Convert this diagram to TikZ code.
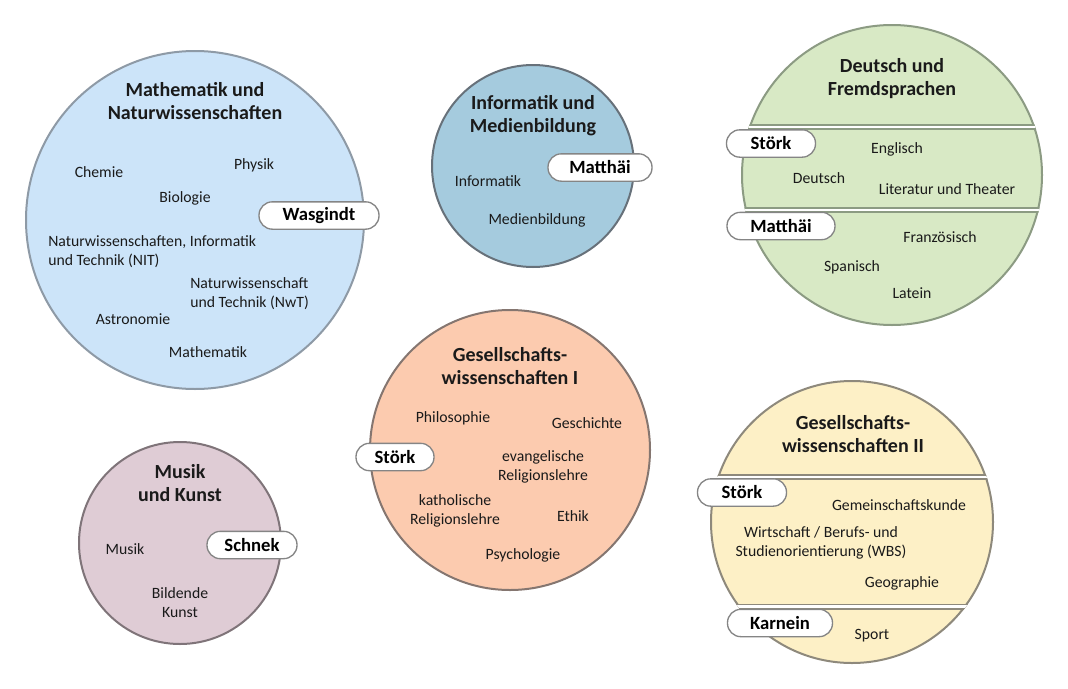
\documentclass[tikz,border=0pt]{standalone}
\usepackage{fontspec}
\setmainfont{Carlito}
\definecolor{mathfill}{HTML}{CCE4F9}
\definecolor{mathline}{HTML}{8E9AA6}
\definecolor{infofill}{HTML}{A5CBDE}
\definecolor{infoline}{HTML}{67717A}
\definecolor{deufill}{HTML}{D8E9C5}
\definecolor{deuline}{HTML}{8C9B83}
\definecolor{gesifill}{HTML}{FCCBAF}
\definecolor{gesiline}{HTML}{857670}
\definecolor{musfill}{HTML}{DFCCD5}
\definecolor{musline}{HTML}{7F7479}
\definecolor{gesiifill}{HTML}{FDF0C6}
\definecolor{gesiiline}{HTML}{8E897C}
\definecolor{pillline}{HTML}{858585}
\definecolor{txt}{HTML}{1A1A1A}
\begin{document}
\begin{tikzpicture}[x=0.75pt,y=-0.75pt,
  lbl/.style={font=\fontsize{11.8}{14.25}\selectfont, align=center, inner sep=0pt, text=txt},
  ttl/.style={font=\fontsize{15}{17.25}\selectfont\bfseries, align=center, inner sep=0pt, text=txt},
  pill/.style={draw=pillline, fill=white, line width=1pt, rounded corners=10pt,
    font=\fontsize{14}{16}\selectfont\bfseries, inner sep=0pt, minimum height=20.5pt, text=black},
  bubble/.style={circle, draw, line width=1.5pt, inner sep=0pt},
  gapedge/.style={line width=4.5pt},
  gapfill/.style={white, line width=2pt}]
\useasboundingbox (0,0) rectangle (1068,689);
\fill[white] (0,0) rectangle (1068,689);

% circles
\node[bubble, draw=mathline, fill=mathfill, minimum size=253.5pt] (math) at (195,220) {};
\node[bubble, draw=infoline, fill=infofill, minimum size=151.5pt] (info) at (533,166) {};
\node[bubble, draw=deuline, fill=deufill, minimum size=225pt] (deu) at (892,175) {};
\node[bubble, draw=gesiline, fill=gesifill, minimum size=210pt] (gesi) at (510,450) {};
\node[bubble, draw=musline, fill=musfill, minimum size=151.5pt] (mus) at (180,543) {};
\node[bubble, draw=gesiiline, fill=gesiifill, minimum size=211.5pt] (gesii) at (852,522) {};

% gaps in Deutsch
\begin{scope}
  \clip (deu.center) circle[radius=113.25pt];
  \draw[gapedge, deuline] (700,127) -- (1100,127);
  \draw[gapfill] (700,127) -- (1100,127);
  \draw[gapedge, deuline] (700,210) -- (1100,210);
  \draw[gapfill] (700,210) -- (1100,210);
\end{scope}
% gaps in Gesellschaftswissenschaften II
\begin{scope}
  \clip (gesii.center) circle[radius=106.5pt];
  \draw[gapedge, gesiiline] (690,477) -- (1000,477);
  \draw[gapfill] (690,477) -- (1000,477);
  \draw[gapedge, gesiiline] (690,606.5) -- (1000,606.5);
  \draw[gapfill] (690,606.5) -- (1000,606.5);
\end{scope}

% Mathematik und Naturwissenschaften
\node[ttl] (mathT) at (195,101.5) {Mathematik und\\Naturwissenschaften};
\node[lbl] (chem) at (99,172) {Chemie};
\node[lbl] (phys) at (254,165) {Physik};
\node[lbl] (bio) at (185,198) {Biologie};
\node[lbl, align=left, anchor=west] (nit) at (48,251.5) {Naturwissenschaften, Informatik\\und Technik (NIT)};
\node[lbl, align=left, anchor=west] (nwt) at (190,293.5) {Naturwissenschaft\\und Technik (NwT)};
\node[lbl] (astro) at (133,319) {Astronomie};
\node[lbl] (mathe) at (208,352) {Mathematik};
\node[pill, minimum width=90pt] (wasg) at (319,215.5) {Wasgindt};

% Informatik und Medienbildung
\node[ttl] (infoT) at (533,116) {Informatik und\\Medienbildung};
\node[lbl] (infk) at (488,181) {Informatik};
\node[lbl] (medb) at (537,220) {Medienbildung};
\node[pill, minimum width=78pt] (matthI) at (600,167.5) {Matthäi};

% Deutsch und Fremdsprachen
\node[ttl] (deuT) at (892,79) {Deutsch und\\Fremdsprachen};
\node[lbl] (engl) at (897,149) {Englisch};
\node[lbl] (deut) at (819,178) {Deutsch};
\node[lbl] (lit) at (947,189) {Literatur und Theater};
\node[lbl] (franz) at (940,237) {Französisch};
\node[lbl] (span) at (852,267) {Spanisch};
\node[lbl] (lat) at (912,293) {Latein};
\node[pill, minimum width=66.75pt] (stoerkD) at (771,143.5) {Störk};
\node[pill, minimum width=81pt] (matthD) at (781,226) {Matthäi};

% Gesellschaftswissenschaften I
\node[ttl] (gesiT) at (510,366) {Gesellschafts-\\wissenschaften I};
\node[lbl] (philo) at (453,418) {Philosophie};
\node[lbl] (gesch) at (587,423) {Geschichte};
\node[lbl] (evrel) at (543,466.5) {evangelische\\Religionslehre};
\node[lbl] (karel) at (455,511) {katholische\\Religionslehre};
\node[lbl] (ethik) at (573,516) {Ethik};
\node[lbl] (psych) at (523,555) {Psychologie};
\node[pill, minimum width=58.5pt] (stoerkI) at (395,457) {Störk};

% Musik und Kunst
\node[ttl] (musT) at (180,483) {Musik\\und Kunst};
\node[lbl] (musik) at (125,549) {Musik};
\node[lbl] (bild) at (180,602.5) {Bildende\\Kunst};
\node[pill, minimum width=67.5pt] (schnek) at (252,545) {Schnek};

% Gesellschaftswissenschaften II
\node[ttl] (gesiiT) at (853,434.5) {Gesellschafts-\\wissenschaften II};
\node[lbl] (gmk) at (899,505) {Gemeinschaftskunde};
\node[lbl] (wbs) at (821,542.5) {Wirtschaft / Berufs- und\\Studienorientierung (WBS)};
\node[lbl] (geo) at (902,583) {Geographie};
\node[lbl] (sport) at (872,636) {Sport};
\node[pill, minimum width=66.75pt] (stoerkII) at (742,492.5) {Störk};
\node[pill, minimum width=78.75pt] (karn) at (780,623) {Karnein};
\end{tikzpicture}
\end{document}
